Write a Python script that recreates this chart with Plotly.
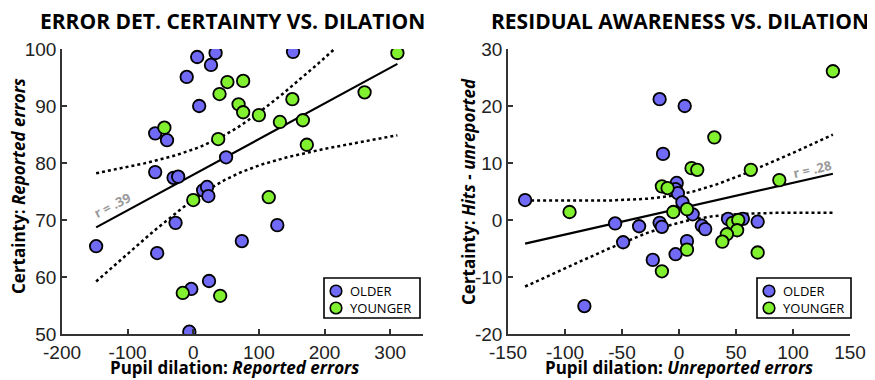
import numpy as np
import plotly.graph_objects as go

# ---- Left panel: Error detection certainty vs dilation ----
L_older_x = [152, 6, 34, 27, -10, 9, -58, -40, 50, -58, -30, -23, 15, 21, 23, -27, 128, 74, -148, -55, 24, -3, -6]
L_older_y = [99.5, 98.6, 99.3, 97.2, 95.1, 90.0, 85.2, 84.0, 81.0, 78.4, 77.4, 77.6, 75.2, 75.8, 74.2, 69.5, 69.1, 66.3, 65.4, 64.2, 59.3, 57.9, 50.4]
L_young_x = [311, 52, 76, 40, 69, 76, 100, 132, 151, 167, 173, 261, -44, 38, 0, 115, -16, 41]
L_young_y = [99.3, 94.2, 94.4, 92.1, 90.3, 88.9, 88.4, 87.2, 91.2, 87.5, 83.2, 92.4, 86.2, 84.2, 73.5, 74.0, 57.2, 56.7]

# ---- Right panel: Residual awareness vs dilation ----
R_older_x = [-135, -83, -56, -49, -35, -23, -17, 5, -14, -17, -15, -3, 7, -2, -3, -1, 3, 12, 20, 23, 43, 56, 69]
R_older_y = [3.5, -15.1, -0.6, -3.9, -1.1, -7.0, 21.2, 20.0, 11.6, -0.5, -1.2, -6.0, -3.7, 6.5, 5.4, 4.7, 3.1, 1.0, -1.0, -1.6, 0.2, 0.2, -0.3]
R_young_x = [135, 31, 11, 16, 63, 88, -15, -10, -96, -5, 7, -15, 7, 47, 52, 51, 42, 38, 69]
R_young_y = [26.1, 14.5, 9.1, 8.8, 8.8, 7.0, 5.9, 5.6, 1.4, 1.4, 1.9, -9.0, -5.2, -0.5, 0.0, -1.8, -2.5, -3.8, -5.7]

L_xticks = [-200, -100, 0, 100, 200, 300]
L_yticks = [50, 60, 70, 80, 90, 100]
R_xticks = [-150, -100, -50, 0, 50, 100, 150]
R_yticks = [-20, -10, 0, 10, 20, 30]

GROUPS = ["OLDER", "YOUNGER"]
T_CRIT = 2.02

PURPLE = "#716af6"
GREEN = "#80f02f"
AX = "#333333"


def fit_band(x, y):
    x = np.asarray(x, float)
    y = np.asarray(y, float)
    n = len(x)
    b, a = np.polyfit(x, y, 1)
    xs = np.linspace(x.min(), x.max(), 120)
    yh = a + b * xs
    s = np.sqrt(np.sum((y - (a + b * x)) ** 2) / (n - 2))
    sxx = np.sum((x - x.mean()) ** 2)
    h = T_CRIT * s * np.sqrt(1 / n + (xs - x.mean()) ** 2 / sxx)
    return xs, yh, yh - h, yh + h


fig = go.Figure()

panels = [
    (L_older_x + L_young_x, L_older_y + L_young_y, L_older_x, L_older_y, L_young_x, L_young_y, "x", "y"),
    (R_older_x + R_young_x, R_older_y + R_young_y, R_older_x, R_older_y, R_young_x, R_young_y, "x2", "y2"),
]

for allx, ally, ox, oy, yx, yy, xa, ya in panels:
    xs, yh, lo, hi = fit_band(allx, ally)
    for band in (lo, hi):
        fig.add_trace(go.Scatter(x=xs, y=band, mode="lines", xaxis=xa, yaxis=ya,
                                 line=dict(color="black", width=2.5, dash="dot"),
                                 showlegend=False, hoverinfo="skip"))
    fig.add_trace(go.Scatter(x=xs, y=yh, mode="lines", xaxis=xa, yaxis=ya,
                             line=dict(color="black", width=2.2),
                             showlegend=False, hoverinfo="skip"))
    fig.add_trace(go.Scatter(x=ox, y=oy, mode="markers", name=GROUPS[0], xaxis=xa, yaxis=ya, showlegend=False,
                             marker=dict(size=12.5, color=PURPLE, line=dict(color="black", width=1.8))))
    fig.add_trace(go.Scatter(x=yx, y=yy, mode="markers", name=GROUPS[1], xaxis=xa, yaxis=ya, showlegend=False,
                             marker=dict(size=12.5, color=GREEN, line=dict(color="black", width=1.8))))

axis_common = dict(showgrid=False, zeroline=False, showline=True, linecolor=AX, linewidth=1.6,
                   ticks="inside", ticklen=5, tickcolor=AX, tickwidth=1.5, automargin=False,
                   tickfont=dict(family="Liberation Sans, Arial", size=19, color="#222"))

# page body has an 8px margin, so everything is positioned 8px up/left
OFF = 8
# reference plot area in pixels: left panel x 62..423, right panel x 508..850, y 49..334
ML, MT = 62 - OFF, 49 - OFF
MR = 875 - (850 - OFF)
MB = 380 - (334 - OFF)
PW = 875 - ML - MR
PH = 380 - MT - MB


def fx(xp):
    return (xp - OFF - ML) / PW


def fy(yp):
    return (334 - yp) / PH


fig.update_layout(
    width=875, height=380,
    margin=dict(l=ML, r=MR, t=MT, b=MB, pad=0),
    paper_bgcolor="white", plot_bgcolor="white",
    xaxis=dict(domain=[fx(62), fx(423)], range=[-200, 350], tickvals=L_xticks,
               ticktext=[str(v) for v in L_xticks], anchor="y", **axis_common),
    yaxis=dict(domain=[0, 1], range=[50, 100], tickvals=L_yticks,
               ticktext=[str(v) for v in L_yticks], anchor="x", **axis_common),
    xaxis2=dict(domain=[fx(508), fx(850)], range=[-150, 150], tickvals=R_xticks,
                ticktext=[str(v) for v in R_xticks], anchor="y2", **axis_common),
    yaxis2=dict(domain=[0, 1], range=[-20, 30], tickvals=R_yticks,
                ticktext=[str(v) for v in R_yticks], anchor="x2", **axis_common),
    showlegend=False,
)

TITLE_FONT = dict(family="Open Sans", size=21, color="black")
LAB_FONT = dict(family="Open Sans", size=17, color="black")

ann = [
    ("<b>ERROR DET. CERTAINTY VS. DILATION</b>", 232, 21, TITLE_FONT, 0),
    ("<b>RESIDUAL AWARENESS VS. DILATION</b>", 680, 21, TITLE_FONT, 0),
    ("<b>Pupil dilation: <i>Reported errors</i></b>", 234, 367, LAB_FONT, 0),
    ("<b>Pupil dilation: <i>Unreported errors</i></b>", 679, 367, LAB_FONT, 0),
    ("<b>Certainty: <i>Reported errors</i></b>", 18, 186, LAB_FONT, -90),
    ("<b>Certainty: <i>Hits - unreported</i></b>", 468, 192, LAB_FONT, -90),
]
for text, xp, yp, f, ang in ann:
    fig.add_annotation(xref="paper", yref="paper", showarrow=False, xanchor="center", yanchor="middle",
                       text=text, x=fx(xp), y=fy(yp), font=f, textangle=ang)

# legends (box, symbols, labels) drawn in page pixels of the reference
LEG_FONT = dict(family="Open Sans", size=13, color="black")
for bx0, bx1 in [(324, 420), (757, 851)]:
    by0, by1 = 278, 318
    fig.add_shape(type="rect", xref="paper", yref="paper", x0=fx(bx0), x1=fx(bx1), y0=fy(by1), y1=fy(by0),
                  line=dict(color="black", width=1.6), fillcolor="white", layer="above")
    for row, (name, col) in enumerate(zip(GROUPS, [PURPLE, GREEN])):
        cy = 291 + 17 * row
        cx = bx0 + 12
        rr = 5.8
        fig.add_shape(type="circle", xref="paper", yref="paper",
                      x0=fx(cx - rr), x1=fx(cx + rr), y0=fy(cy + rr), y1=fy(cy - rr),
                      line=dict(color="black", width=1.6), fillcolor=col, layer="above")
        fig.add_annotation(xref="paper", yref="paper", showarrow=False, xanchor="left", yanchor="middle",
                           text=name, x=fx(bx0 + 24), y=fy(cy), font=LEG_FONT)

fig.add_annotation(x=-123, y=72.6, xref="x", yref="y", text="<b>r = .39</b>", showarrow=False,
                   textangle=-27, font=dict(family="Open Sans", size=13, color="#9a9a9a"))
fig.add_annotation(x=117, y=8.9, xref="x2", yref="y2", text="<b>r = .28</b>", showarrow=False,
                   textangle=-13, font=dict(family="Open Sans", size=13, color="#9a9a9a"))

fig.write_html("out.html")
